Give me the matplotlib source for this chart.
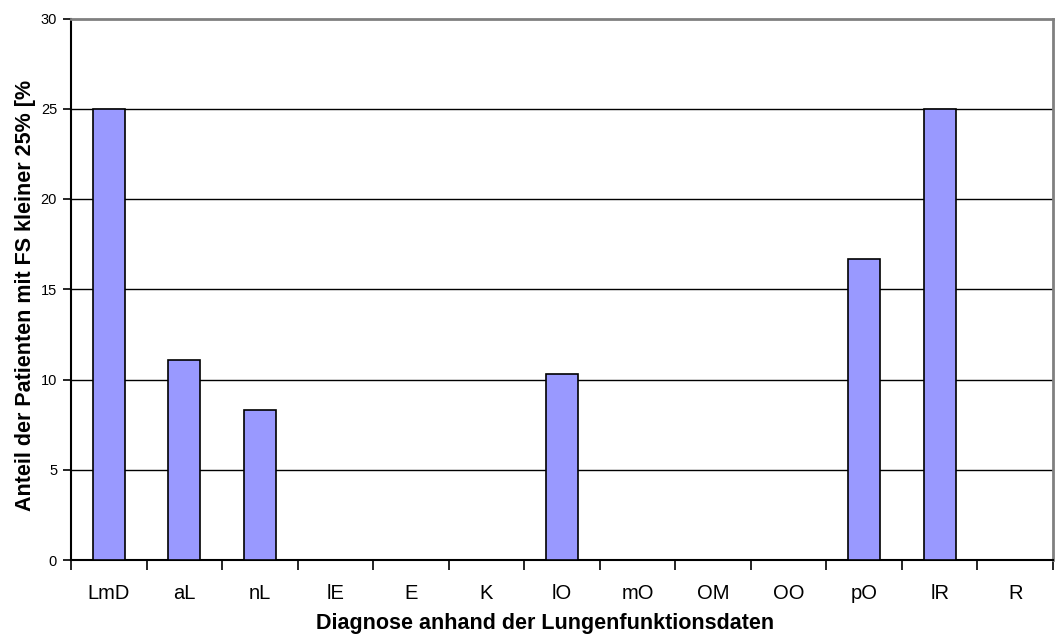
import matplotlib
matplotlib.use("Agg")
import matplotlib.pyplot as plt
import numpy as np

plt.rcParams['font.family'] = ['Liberation Sans', 'DejaVu Sans']

categories = ["LmD", "aL", "nL", "lE", "E", "K", "lO", "mO", "OM", "OO", "pO", "lR", "R"]
values = [25.0, 11.1, 8.3, 0, 0, 0, 10.3, 0, 0, 0, 16.7, 25.0, 0]
y_ticks = [0, 5, 10, 15, 20, 25, 30]

fig = plt.figure(figsize=(10.55, 6.41), dpi=100)
ax = fig.add_axes([71 / 1055, 81 / 641, 982 / 1055, 541.5 / 641])

x = np.arange(len(categories))
ax.bar(x, values, width=0.42, color="#9999FF", edgecolor="black",
       linewidth=1.2, zorder=3)

ax.set_xlim(-0.5, len(categories) - 0.5)
ax.set_ylim(0, 30)
ax.set_yticks(y_ticks)
for v in y_ticks[1:-1]:
    ax.axhline(v, color="black", linewidth=1.0, zorder=1)

# category labels centred, ticks on the boundaries
ax.set_xticks(x)
ax.set_xticklabels(categories, fontsize=14.5)
ax.set_xticks(np.arange(len(categories) + 1) - 0.5, minor=True)
ax.tick_params(axis="x", which="major", length=0, pad=17)
ax.tick_params(axis="x", which="minor", length=7, width=1.2, direction="out")
ax.tick_params(axis="y", length=6, width=1.2, direction="out", labelsize=10.5, pad=4)

for side in ("left", "bottom"):
    ax.spines[side].set_color("black")
    ax.spines[side].set_linewidth(1.5)
for side in ("top", "right"):
    ax.spines[side].set_color("#808080")
    ax.spines[side].set_linewidth(2)

fig.text(545 / 1055, 1 - 623 / 641, "Diagnose anhand der Lungenfunktionsdaten",
         ha="center", va="center", fontsize=15.5, fontweight="bold")
fig.text(26 / 1055, 1 - 295 / 641, "Anteil der Patienten mit FS kleiner 25% [%",
         ha="center", va="center", rotation=90, fontsize=15.5, fontweight="bold")

fig.savefig("out.png", dpi=100)
